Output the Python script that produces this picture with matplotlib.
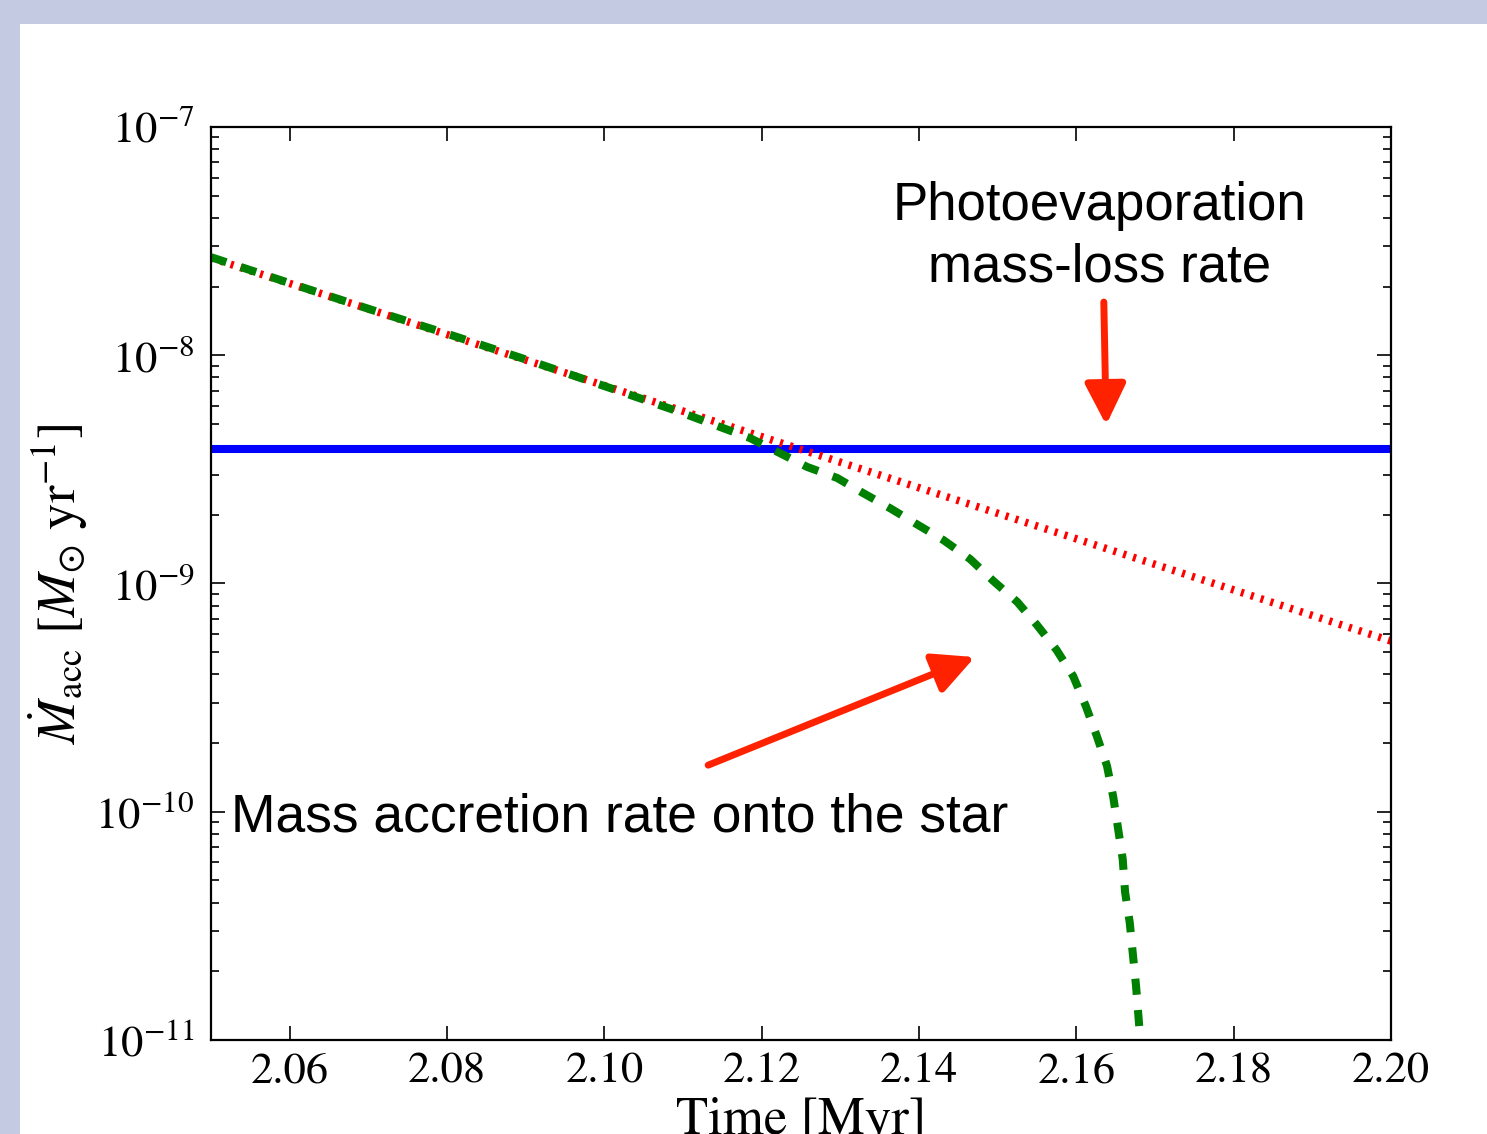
import numpy as np
import matplotlib
matplotlib.use('Agg')
import matplotlib.pyplot as plt
from matplotlib.patches import Rectangle

# Data
t_acc = [2.0500, 2.0600, 2.0702, 2.0804, 2.0906, 2.1000, 2.1096, 2.1185, 2.1223,
         2.1258, 2.1296, 2.1329, 2.1363, 2.1397, 2.1431, 2.1465, 2.1494, 2.1525,
         2.1550, 2.1575, 2.1596, 2.1612, 2.1626, 2.1639, 2.1647, 2.1653, 2.1659,
         2.1662, 2.1668, 2.1672, 2.1676, 2.1680]
mdot_acc = [2.69e-8, 2.07e-8, 1.59e-8, 1.23e-8, 9.44e-9, 7.33e-9, 5.64e-9, 4.34e-9,
            3.73e-9, 3.24e-9, 2.90e-9, 2.49e-9, 2.14e-9, 1.82e-9, 1.55e-9, 1.28e-9,
            1.03e-9, 8.30e-10, 6.58e-10, 5.11e-10, 3.93e-10, 2.91e-10, 2.15e-10,
            1.59e-10, 1.16e-10, 8.49e-11, 6.21e-11, 4.45e-11, 3.26e-11, 2.36e-11,
            1.72e-11, 1.15e-11]

t_fit = [2.05, 2.20]
mdot_fit = [2.67e-8, 5.6e-10]

t_pe = [2.05, 2.20]
mdot_pe = [3.9e-9, 3.9e-9]

xticks = [2.06, 2.08, 2.10, 2.12, 2.14, 2.16, 2.18, 2.20]

plt.rcParams['font.family'] = 'STIXGeneral'
plt.rcParams['mathtext.fontset'] = 'stix'

fig = plt.figure(figsize=(14.87, 11.34), dpi=100)
fig.patch.set_facecolor('#c5cae3')
fig.patches.append(Rectangle((20 / 1487, 0), 1, 1 - 24 / 1134, transform=fig.transFigure,
                             facecolor='white', edgecolor='none', zorder=-10))

ax = fig.add_axes([0.1419, 0.0829, 0.7935, 0.8051])

ax.plot(t_pe, mdot_pe, color='blue', lw=5.8, solid_capstyle='butt')
ax.plot(t_fit, mdot_fit, color='red', lw=5.5, linestyle=(0, (0.4, 0.95)))
ax.plot(t_acc, mdot_acc, color='green', lw=5.8, linestyle=(0, (2.0, 1.9)))

ax.set_yscale('log')
ax.set_xlim(2.05, 2.20)
ax.set_ylim(1e-11, 1e-7)
ax.set_xticks(xticks)
ax.set_xticklabels(['%.2f' % v for v in xticks])
ax.minorticks_off()
ax.yaxis.set_minor_locator(matplotlib.ticker.LogLocator(base=10, subs=np.arange(2, 10)))
ax.yaxis.set_minor_formatter(matplotlib.ticker.NullFormatter())

ax.tick_params(which='both', direction='in', top=True, right=True, labelsize=32, width=1.2)
ax.tick_params(which='major', length=10, pad=9)
ax.tick_params(axis='y', which='major', pad=12)
ax.tick_params(which='minor', length=6)
for s in ax.spines.values():
    s.set_linewidth(1.6)

ax.set_xlabel('Time [Myr]', fontsize=38, labelpad=4)
ax.set_ylabel(r'$\dot{M}_{\rm acc}\ [M_{\odot}\ {\rm yr}^{-1}]$', fontsize=38, labelpad=4)

arrow_col = '#ff2200'
head = '-|>,head_length=2.5,head_width=1.25'
ax.text(2.1629, 3.3e-8, 'Photoevaporation\nmass-loss rate', fontsize=38, family='Liberation Sans',
        ha='center', va='center', linespacing=1.28)
ax.annotate('', xy=(2.1638, 4.95e-9), xytext=(2.1635, 1.71e-8),
            arrowprops=dict(arrowstyle=head, color=arrow_col, lw=5, shrinkA=0, shrinkB=0))
ax.text(2.1020, 9.4e-11, 'Mass accretion rate onto the star', fontsize=38.4, family='Liberation Sans',
        ha='center', va='center')
ax.annotate('', xy=(2.1471, 4.76e-10), xytext=(2.1132, 1.60e-10),
            arrowprops=dict(arrowstyle=head, color=arrow_col, lw=5, shrinkA=0, shrinkB=0))

fig.savefig('out.png', dpi=100, facecolor=fig.get_facecolor())
